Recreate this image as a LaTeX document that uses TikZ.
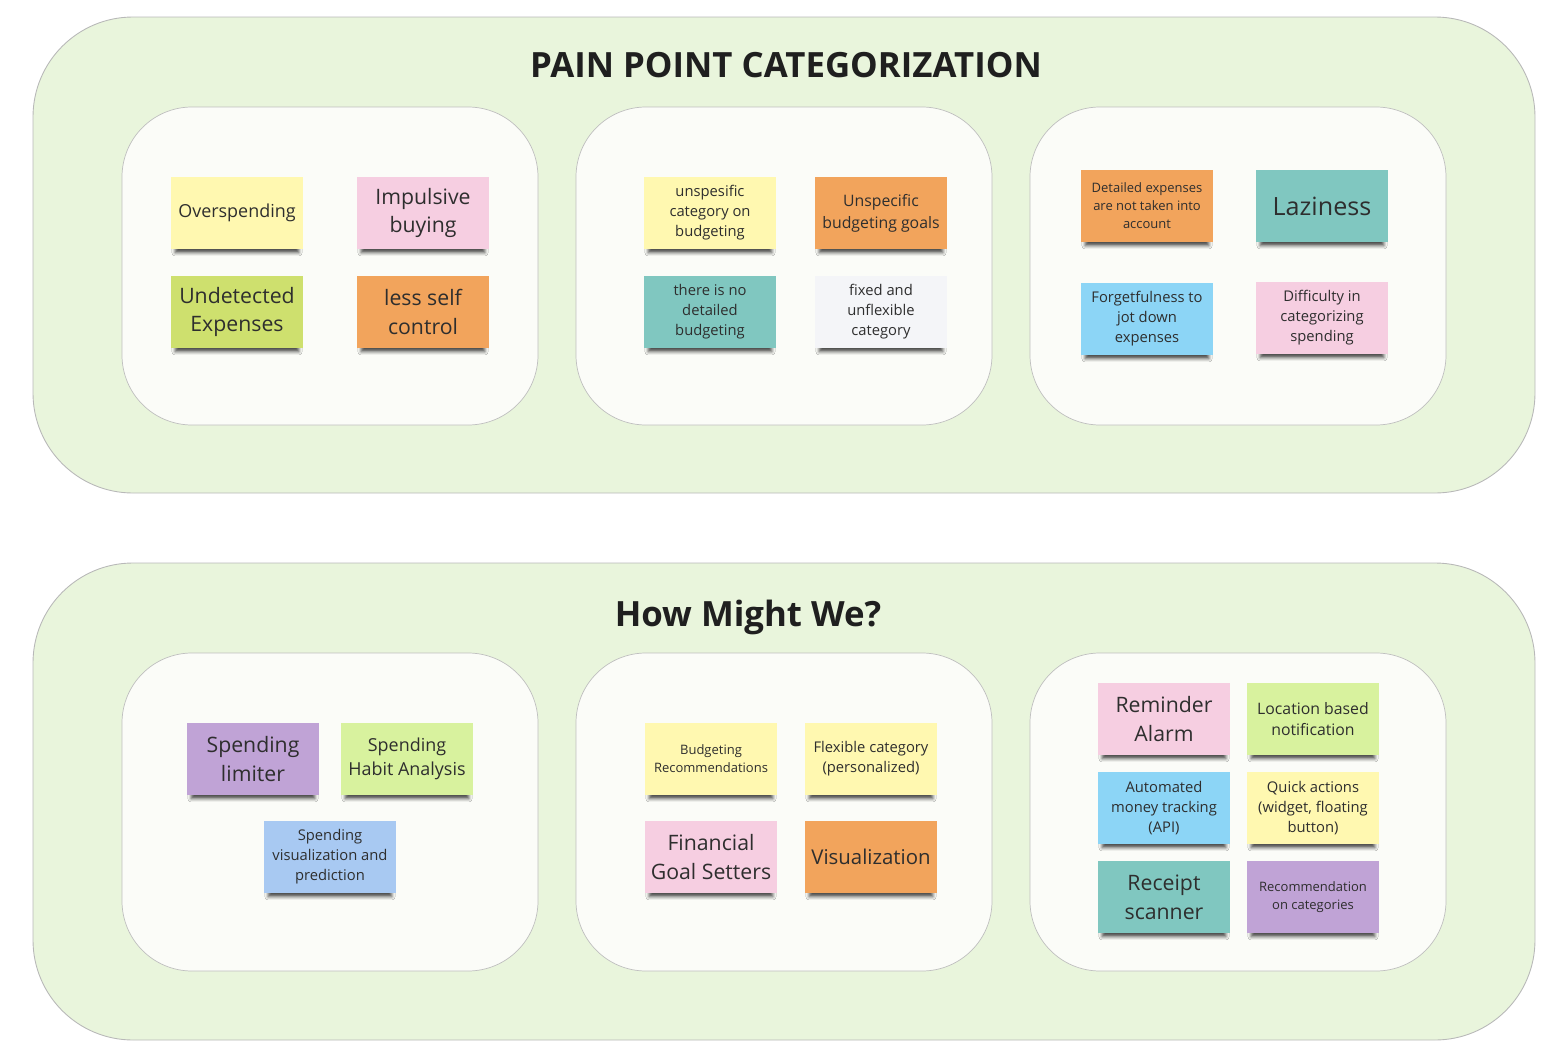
\documentclass[tikz,border=0pt]{standalone}
\usepackage{fontspec}
\setmainfont{Open Sans}
\usetikzlibrary{shadows.blur}
\definecolor{boardfill}{HTML}{E9F5DC}
\definecolor{groupfill}{HTML}{FBFCF8}
\definecolor{stYellow}{HTML}{FFF8B0}
\definecolor{stPink}{HTML}{F6CEE1}
\definecolor{stLime}{HTML}{CEE06E}
\definecolor{stLeaf}{HTML}{D8F29E}
\definecolor{stOrange}{HTML}{F2A45C}
\definecolor{stTeal}{HTML}{80C7C0}
\definecolor{stSky}{HTML}{8CD5F6}
\definecolor{stBlue}{HTML}{A8C9F2}
\definecolor{stPurple}{HTML}{C0A3D6}
\definecolor{stWhite}{HTML}{F4F5F8}
\newcommand{\fhuge}{\fontsize{14.3}{18}\selectfont}
\newcommand{\fbig}{\fontsize{12.1}{16.4}\selectfont}
\newcommand{\fmid}{\fontsize{9.0}{12.4}\selectfont}
\newcommand{\fsml}{\fontsize{8.4}{11.4}\selectfont}
\newcommand{\ftny}{\fontsize{7.4}{10.2}\selectfont}
\begin{document}
\begin{tikzpicture}[x=0.02cm, y=-0.02cm,
  board/.style={draw=black!28, fill=boardfill, rounded corners=2cm, line width=0.5pt},
  group/.style={draw=black!25, fill=groupfill, rounded corners=1.4cm, line width=0.4pt},
  heading/.style={font=\fontsize{19.8}{24}\selectfont\bfseries, text=black!88},
  sticky/.style={minimum width=2.66cm, minimum height=1.44cm, inner sep=2pt, align=center,
    text=black!82, blur shadow={shadow xshift=0pt, shadow yshift=-3.8pt,
    shadow scale=0.93, shadow blur radius=2pt, shadow opacity=70}}]
\useasboundingbox (0,0) rectangle (1560,1045);
% boards
\draw[board] (33,17) rectangle (1535,493);
\draw[board] (33,563) rectangle (1535,1040);
\foreach \gx in {122,576,1030}{
  \draw[group] (\gx,107) rectangle ++(416,318);
  \draw[group] (\gx,653) rectangle ++(416,318);
}
\node[heading] (paintitle) at (786,65) {PAIN POINT CATEGORIZATION};
\node[heading] (hmwtitle) at (748,617) {How Might We?};
% pain points
\node[sticky, fill=stYellow, font=\fontsize{10.2}{14}\selectfont] (overspend) at (237,213) {Overspending};
\node[sticky, fill=stPink, font=\fbig] (impulse) at (423,213) {Impulsive\\buying};
\node[sticky, fill=stLime, font=\fbig] (undetect) at (237,312) {Undetected\\Expenses};
\node[sticky, fill=stOrange, font=\fbig] (selfctrl) at (423,312) {less self\\control};
\node[sticky, fill=stYellow, font=\fsml] (unspcat) at (710,213) {unspesific\\category on\\budgeting};
\node[sticky, fill=stOrange, font=\fmid] (unspgoal) at (881,213) {Unspecific\\budgeting goals};
\node[sticky, fill=stTeal, font=\fsml] (nodetail) at (710,312) {there is no\\detailed\\budgeting};
\node[sticky, fill=stWhite, font=\fsml] (fixedcat) at (881,312) {fixed and\\unflexible\\category};
\node[sticky, fill=stOrange, font=\ftny] (detexp) at (1147,206) {Detailed expenses\\are not taken into\\account};
\node[sticky, fill=stTeal, font=\fhuge] (lazy) at (1322,206) {Laziness};
\node[sticky, fill=stSky, font=\fsml] (forget) at (1147,319) {Forgetfulness to\\jot down\\expenses};
\node[sticky, fill=stPink, font=\fsml] (difcat) at (1322,318) {Difficulty in\\categorizing\\spending};
% how might we
\node[sticky, fill=stPurple, font=\fbig] (limiter) at (253,759) {Spending\\limiter};
\node[sticky, fill=stLeaf, font=\fontsize{10.2}{13.6}\selectfont] (habit) at (407,759) {Spending\\Habit Analysis};
\node[sticky, fill=stBlue, font=\fsml] (predict) at (330,857) {Spending\\visualization and\\prediction};
\node[sticky, fill=stYellow, font=\ftny] (budrec) at (711,759) {Budgeting\\Recommendations};
\node[sticky, fill=stYellow, font=\fsml] (flexcat) at (871,759) {Flexible category\\(personalized)};
\node[sticky, fill=stPink, font=\fbig] (goalset) at (711,857) {Financial\\Goal Setters};
\node[sticky, fill=stOrange, font=\fontsize{11.6}{15}\selectfont] (visual) at (871,857) {Visualization};
\node[sticky, fill=stPink, font=\fbig] (reminder) at (1164,719) {Reminder\\Alarm};
\node[sticky, fill=stLeaf, font=\fmid] (locnote) at (1313,719) {Location based\\notification};
\node[sticky, fill=stSky, font=\fsml] (autotrack) at (1164,808) {Automated\\money tracking\\(API)};
\node[sticky, fill=stYellow, font=\fsml] (quick) at (1313,808) {Quick actions\\(widget, floating\\button)};
\node[sticky, fill=stTeal, font=\fbig] (receipt) at (1164,897) {Receipt\\scanner};
\node[sticky, fill=stPurple, font=\ftny] (catrec) at (1313,897) {Recommendation\\on categories};
\end{tikzpicture}
\end{document}
